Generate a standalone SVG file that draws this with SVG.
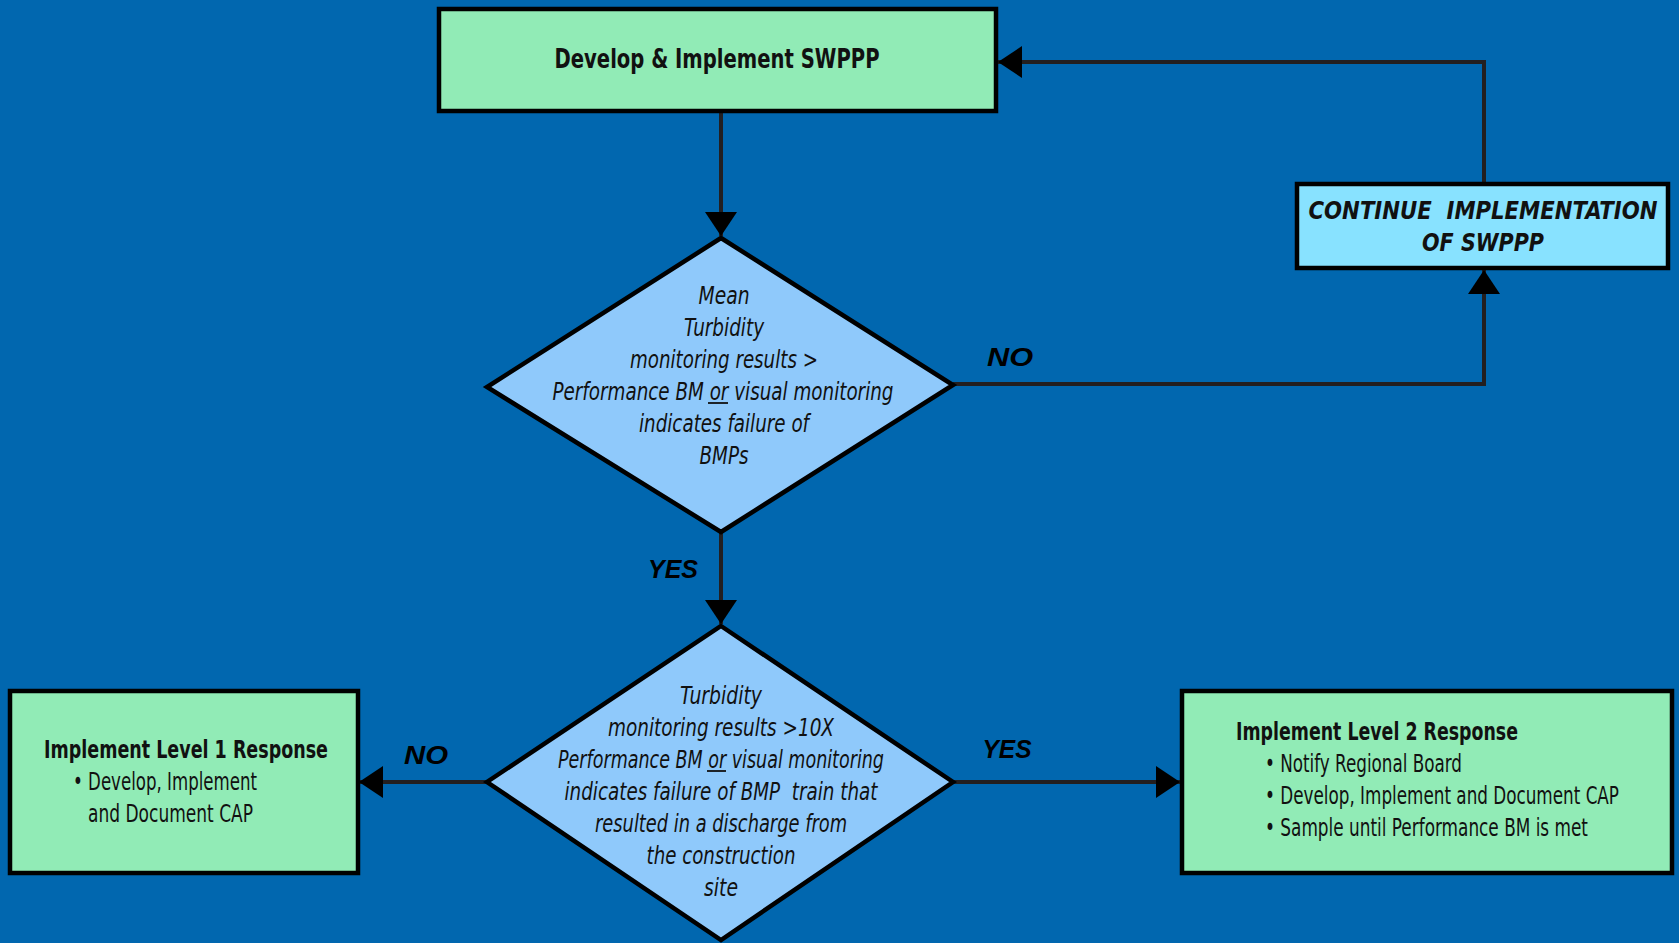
<svg xmlns="http://www.w3.org/2000/svg" width="1679" height="943" viewBox="0 0 1679 943">
<style>
.box{stroke:#000;stroke-width:4.5}
.green{fill:#91EBB6}
.dia{fill:#8FC9FB;stroke:#000;stroke-width:4.5}
.cyan{fill:#88E2FF}
.t{font-family:"Liberation Sans Narrow","DejaVu Sans Condensed","Liberation Sans",sans-serif;fill:#111;text-anchor:middle}
.b{font-weight:bold}
.i{font-style:italic}
.s{text-anchor:start}
.lbl{font-family:"Liberation Sans","DejaVu Sans",sans-serif;font-weight:bold;font-style:italic;font-size:26px;fill:#000;text-anchor:middle}
.c{fill:none;stroke:#231F20;stroke-width:4}
.u{stroke:#111;stroke-width:1.8}
</style>
<defs>
<marker id="ah" markerUnits="userSpaceOnUse" markerWidth="24" markerHeight="32" refX="24" refY="16" orient="auto" viewBox="0 0 24 32">
<path d="M0,0 L24,16 L0,32 Z" fill="#000"/>
</marker>
</defs>
<rect width="1679" height="943" fill="#0167AF"/>
<g id="connectors">
<path class="c" d="M721,111 V236" marker-end="url(#ah)"/>
<path class="c" d="M953,384 H1484 V270" marker-end="url(#ah)"/>
<path class="c" d="M1484,183 V62 H998" marker-end="url(#ah)"/>
<path class="c" d="M721,532 V624" marker-end="url(#ah)"/>
<path class="c" d="M487,782 H359" marker-end="url(#ah)"/>
<path class="c" d="M953,782 H1180" marker-end="url(#ah)"/>
<text class="lbl" x="1010" y="366" textLength="46" lengthAdjust="spacingAndGlyphs">NO</text>
<text class="lbl" x="673" y="578" textLength="50" lengthAdjust="spacingAndGlyphs">YES</text>
<text class="lbl" x="426" y="764" textLength="44" lengthAdjust="spacingAndGlyphs">NO</text>
<text class="lbl" x="1007" y="758" textLength="49" lengthAdjust="spacingAndGlyphs">YES</text>
</g>
<g id="develop">
<rect class="box green" x="439" y="9" width="557" height="102"/>
<text class="t b" x="717" y="68" font-size="27" textLength="325" lengthAdjust="spacingAndGlyphs">Develop &amp; Implement SWPPP</text>
</g>
<g id="decision1">
<polygon class="dia" points="721,238 953,385 721,532 487,387"/>
<g class="t i" font-size="24">
<text x="724" y="304" textLength="51" lengthAdjust="spacingAndGlyphs">Mean</text>
<text x="724" y="336" textLength="80" lengthAdjust="spacingAndGlyphs">Turbidity</text>
<text x="724" y="368" textLength="188" lengthAdjust="spacingAndGlyphs">monitoring results &gt;</text>
<text x="723" y="400" textLength="341" lengthAdjust="spacingAndGlyphs">Performance BM or visual monitoring</text>
<text x="724" y="432" textLength="170" lengthAdjust="spacingAndGlyphs">indicates failure of</text>
<text x="724" y="464" textLength="49" lengthAdjust="spacingAndGlyphs">BMPs</text>
</g>
<line class="u" x1="708" y1="403" x2="728" y2="403"/>
</g>
<g id="continue">
<rect class="box cyan" x="1297" y="184" width="371" height="84"/>
<text class="t b i" x="1483" y="219" font-size="25" textLength="349" lengthAdjust="spacingAndGlyphs">CONTINUE&#160; IMPLEMENTATION</text>
<text class="t b i" x="1483" y="251" font-size="25" textLength="122" lengthAdjust="spacingAndGlyphs">OF SWPPP</text>
</g>
<g id="decision2">
<polygon class="dia" points="721,626 953,782 721,940 487,782"/>
<g class="t i" font-size="24">
<text x="721" y="704" textLength="82" lengthAdjust="spacingAndGlyphs">Turbidity</text>
<text x="721" y="736" textLength="226" lengthAdjust="spacingAndGlyphs">monitoring results &gt;10X</text>
<text x="721" y="768" textLength="326" lengthAdjust="spacingAndGlyphs">Performance BM or visual monitoring</text>
<text x="721" y="800" textLength="313" lengthAdjust="spacingAndGlyphs">indicates failure of BMP&#160; train that</text>
<text x="721" y="832" textLength="252" lengthAdjust="spacingAndGlyphs">resulted in a discharge from</text>
<text x="721" y="864" textLength="149" lengthAdjust="spacingAndGlyphs">the construction</text>
<text x="721" y="896" textLength="34" lengthAdjust="spacingAndGlyphs">site</text>
</g>
<line class="u" x1="707" y1="771" x2="726" y2="771"/>
</g>
<g id="level1">
<rect class="box green" x="10" y="691" width="348" height="182"/>
<text class="t b" x="186" y="758" font-size="25" textLength="284" lengthAdjust="spacingAndGlyphs">Implement Level 1 Response</text>
<text class="t s" x="73" y="790" font-size="24" textLength="184" lengthAdjust="spacingAndGlyphs">• Develop, Implement</text>
<text class="t s" x="88" y="822" font-size="24" textLength="165" lengthAdjust="spacingAndGlyphs">and Document CAP</text>
</g>
<g id="level2">
<rect class="box green" x="1182" y="691" width="490" height="182"/>
<text class="t b s" x="1236" y="740" font-size="25" textLength="282" lengthAdjust="spacingAndGlyphs">Implement Level 2 Response</text>
<text class="t s" x="1265" y="772" font-size="24" textLength="197" lengthAdjust="spacingAndGlyphs">• Notify Regional Board</text>
<text class="t s" x="1265" y="804" font-size="24" textLength="354" lengthAdjust="spacingAndGlyphs">• Develop, Implement and Document CAP</text>
<text class="t s" x="1265" y="836" font-size="24" textLength="323" lengthAdjust="spacingAndGlyphs">• Sample until Performance BM is met</text>
</g>
</svg>
